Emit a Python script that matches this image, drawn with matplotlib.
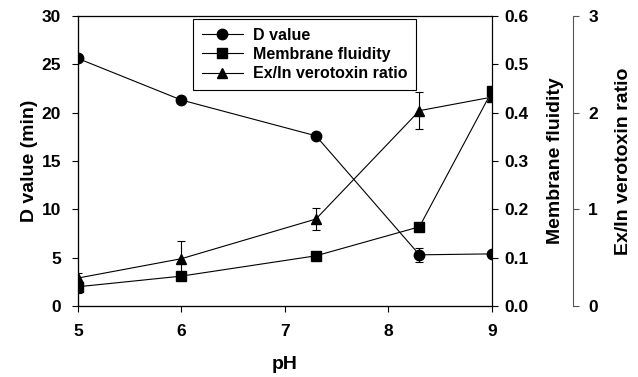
import matplotlib
matplotlib.use("Agg")
import matplotlib.pyplot as plt
from matplotlib.lines import Line2D

plt.rcParams['font.family'] = ['Liberation Sans', 'DejaVu Sans']
plt.rcParams['font.weight'] = 'bold'

ph = [5, 6, 7.3, 8.3, 9]
d_value = [25.6, 21.3, 17.6, 5.3, 5.4]
d_err = [0.3, 0.2, 0.2, 0.7, 0.2]
fluidity = [0.040, 0.062, 0.104, 0.164, 0.444]
fluidity_err = [0.012, 0.004, 0.004, 0.004, 0.006]
ratio = [0.29, 0.49, 0.90, 2.02, 2.16]
ratio_err = [0.05, 0.18, 0.11, 0.19, 0.03]
labels = ['D value', 'Membrane fluidity', 'Ex/In verotoxin ratio']

fig = plt.figure(figsize=(6.38, 3.77), dpi=100)
ax1 = fig.add_axes([0.122, 0.188, 0.649, 0.770])
ax2 = ax1.twinx()
ax3 = ax1.twinx()

style = dict(color='black', lw=0.8, markersize=7.5, capsize=3, elinewidth=0.8, capthick=0.8)
ax1.errorbar(ph, d_value, yerr=d_err, marker='o', **style)
ax2.errorbar(ph, fluidity, yerr=fluidity_err, marker='s', **style)
ax3.errorbar(ph, ratio, yerr=ratio_err, marker='^', **style)

ax1.set_xlim(5, 9)
ax1.set_ylim(0, 30)
ax1.set_xticks([5, 6, 7, 8, 9])
ax1.set_yticks([0, 5, 10, 15, 20, 25, 30])
ax2.set_ylim(0, 0.6)
ax2.set_yticks([0, 0.1, 0.2, 0.3, 0.4, 0.5, 0.6])
ax2.set_yticklabels(['0.0', '0.1', '0.2', '0.3', '0.4', '0.5', '0.6'])
ax3.set_ylim(0, 3)
ax3.set_yticks([0, 1, 2, 3])

ax3.spines['right'].set_position(('axes', 1.196))
ax3.spines['right'].set_color('#555555')
for ax in (ax1, ax2, ax3):
    ax.tick_params(labelsize=12.5, width=0.8, length=4)
    for s in ax.spines.values():
        s.set_linewidth(0.8)
ax1.tick_params(axis='x', pad=9)
ax1.tick_params(axis='y', pad=8)
ax2.tick_params(axis='y', pad=5)
ax3.tick_params(axis='y', color='#555555', pad=7)
ax1.spines['top'].set_color('#777777')

ax1.set_xlabel('pH', fontsize=14, fontweight='bold', labelpad=12)
ax1.set_ylabel('D value (min)', fontsize=14, fontweight='bold', labelpad=3)
ax2.set_ylabel('Membrane fluidity', fontsize=14, fontweight='bold', labelpad=13)
ax3.set_ylabel('Ex/In verotoxin ratio', fontsize=14, fontweight='bold', labelpad=12)

handles = [Line2D([], [], color='black', lw=0.8, marker=m, markersize=7.5) for m in ('o', 's', '^')]
leg = ax3.legend(handles, labels, loc='upper left', bbox_to_anchor=(0.278, 0.99),
                 borderaxespad=0, fontsize=11.5, fancybox=False, framealpha=1,
                 edgecolor='black', handlelength=2.6, borderpad=0.55, labelspacing=0.28,
                 handletextpad=0.6)
leg.get_frame().set_linewidth(0.8)

fig.savefig('out.png', dpi=100)
